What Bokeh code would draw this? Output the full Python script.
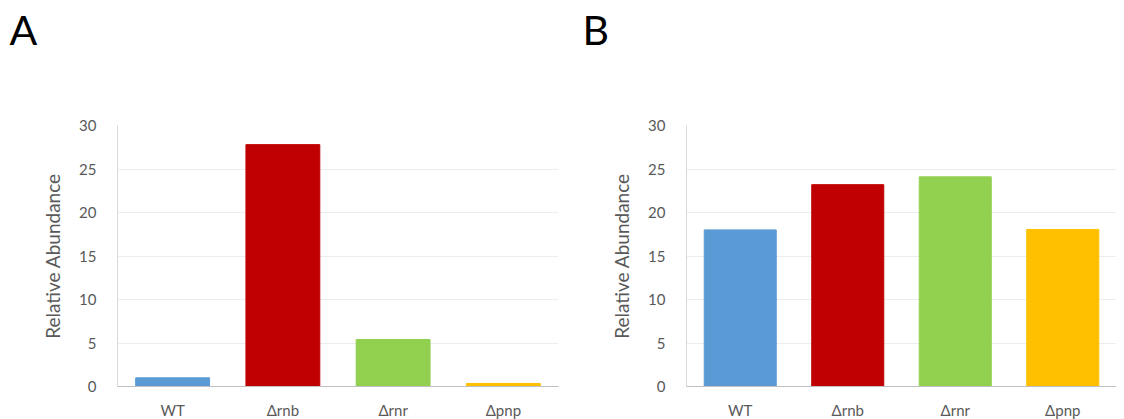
from bokeh.plotting import figure
from bokeh.layouts import row
from bokeh.models import Title, ColumnDataSource, FixedTicker
from bokeh.embed import file_html
from bokeh.resources import INLINE

categories = ["WT", "Δrnb", "Δrnr", "Δpnp"]
colors = ["#5B9BD5", "#C00000", "#92D050", "#FFC000"]
values_a = [1.0, 27.8, 5.4, 0.35]
values_b = [18.0, 23.2, 24.1, 18.05]
y_ticks = [0, 5, 10, 15, 20, 25, 30]
panel_labels = ["A", "B"]

FONT = "Lato"
TXT = "#595959"


def make(values, letter, border_left, frame_w, border_right, label_px):
    p = figure(x_range=categories, y_range=(0, 30), frame_width=frame_w, frame_height=261,
               min_border_left=border_left, min_border_right=border_right,
               min_border_top=125, min_border_bottom=30,
               output_backend="svg", toolbar_location=None)
    src = ColumnDataSource(dict(x=categories, top=values, color=colors))
    p.vbar(x="x", top="top", width=0.67, color="color", source=src)
    p.x_range.range_padding = 0
    p.outline_line_color = None
    p.xgrid.grid_line_color = None
    p.ygrid.grid_line_color = "#EDEDED"
    p.ygrid.grid_line_width = 1
    p.yaxis.ticker = FixedTicker(ticks=y_ticks)
    for ax in (p.xaxis, p.yaxis):
        ax.major_tick_line_color = None
        ax.minor_tick_line_color = None
        ax.major_label_text_font = FONT
        ax.major_label_text_font_size = "15px"
        ax.major_label_text_color = TXT
    p.xaxis.axis_line_color = "#BFBFBF"
    p.yaxis.axis_line_color = "#D9D9D9"
    p.yaxis.major_label_standoff = 15
    p.xaxis.major_label_standoff = 8
    p.yaxis.axis_label = "Relative Abundance"
    p.yaxis.axis_label_text_font = FONT
    p.yaxis.axis_label_text_font_size = "19px"
    p.yaxis.axis_label_text_font_style = "normal"
    p.yaxis.axis_label_text_color = TXT
    p.yaxis.axis_label_standoff = 12
    # spacer between frame and panel letter
    p.add_layout(Title(text=" ", text_font_size="1px", standoff=69), "above")
    p.add_layout(Title(text=letter, align="left", offset=label_px - border_left,
                       standoff=0, text_font=FONT, text_font_size="41px",
                       text_font_style="normal", text_color="#000000"), "above")
    return p


pa = make(values_a, panel_labels[0], 117, 441, 20, 9)
pb = make(values_b, panel_labels[1], 108, 430, 0, 4)

layout = row(pa, pb)
open("out.html", "w").write(file_html(layout, INLINE))
